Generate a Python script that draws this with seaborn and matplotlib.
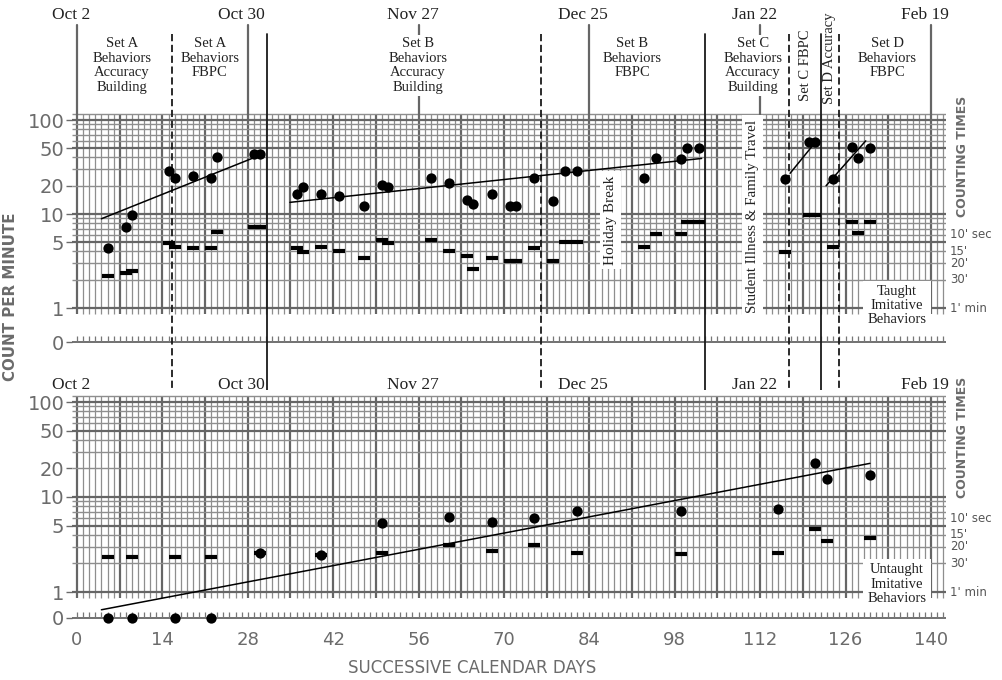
import numpy as np
import matplotlib
matplotlib.use("Agg")
import matplotlib.pyplot as plt
import matplotlib.transforms as mtransforms
import seaborn as sns

#   --  values (day, count per minute)
taught_days = [5, 8, 9, 15, 16, 19, 22, 23, 29, 30,
               36, 37, 40, 43, 47, 50, 51, 58, 61, 64,
               65, 68, 71, 72, 75, 78, 80, 82, 93, 95,
               99, 100, 102, 116, 120, 121, 124, 127, 128, 130]
taught_rate = [4.4, 7.3, 9.7, 29, 24, 25.5, 24, 40, 43, 43,
               16.3, 19.5, 16.2, 15.7, 12.2, 20.4, 19.2, 24.3, 21.2, 14.1,
               12.7, 16.3, 12.3, 12.3, 24, 13.9, 28.9, 28.9, 24.3, 39,
               38.7, 50.8, 50.8, 23.6, 58.3, 58.3, 23.6, 51.6, 39, 50.8]
taught_floor = [2.2, 2.35, 2.45, 4.9, 4.45, 4.4, 4.4, 6.5, 7.3, 7.3,
                4.4, 3.9, 4.45, 4.07, 3.43, 5.3, 4.9, 5.3, 4.07, 3.57,
                2.58, 3.4, 3.2, 3.2, 4.3, 3.14, 5.0, 5.0, 4.45, 6.1,
                6.2, 8.3, 8.3, 3.97, 9.7, 9.7, 4.45, 8.2, 6.3, 8.2]

untaught_days = [5, 9, 16, 22, 30, 40, 50, 61, 68, 75, 82, 99, 115, 121, 123, 130]
untaught_rate = [0, 0, 0, 0, 2.55, 2.47, 5.3, 6.1, 5.5, 6.0, 7.2, 7.2, 7.5, 22.6, 15.4, 17.2]
untaught_floor = [2.33, 2.33, 2.33, 2.33, 2.55, 2.47, 2.55, 3.1, 2.7, 3.1, 2.6, 2.51, 2.6, 4.6, 3.47, 3.7]

# celeration lines, start / end of each
taught_trend_days = [[4, 29.4], [34.9, 102.4], [116.9, 120.9], [122.8, 129.3]]
taught_trend_vals = [[8.9, 40.7], [13.3, 39], [27.1, 56.5], [20, 60]]
untaught_trend_days = [4, 130]
untaught_trend_vals = [0.65, 22.6]

phase_days = [15.6, 31.1, 76.1, 103.0, 116.7, 122.0, 124.9]
phase_styles = ["--", "-", "--", "-", "--", "-", "--"]

phase_text = ["Set A\nBehaviors\nAccuracy\nBuilding", "Set A\nBehaviors\nFBPC",
              "Set B\nBehaviors\nAccuracy\nBuilding", "Set B\nBehaviors\nFBPC",
              "Set C\nBehaviors\nAccuracy\nBuilding", "Set C FBPC", "Set D Accuracy",
              "Set D\nBehaviors\nFBPC"]
phase_text_days = [7.4, 21.8, 55.9, 91, 110.8, 119.5, 123.4, 132.8]

date_labels = ["Oct 2", "Oct 30", "Nov 27", "Dec 25", "Jan 22", "Feb 19"]
date_days = [0, 28, 56, 84, 112, 140]
day_ticks = list(range(0, 141, 14))
y_ticks = [1, 5, 10, 20, 50, 100]
count_times = ["10' sec", "15'", "20'", "30'", "1' min"]
count_rates = [6, 4, 3, 2, 1]

#   --  layout (pixels of a 1003x680 picture)
W, H = 1003, 680
X0, PXD = 77, 6.1
LEFT, RIGHT = 72, 946
XLIM = ((LEFT - X0) / PXD, (RIGHT - X0) / PXD)
GRID_TOP, GRID_BOT = 115, 0.86
GREY = "#6b6b6b"
SERIF = "Liberation Serif"

sns.set_style("white")
fig = plt.figure(figsize=(W / 100, H / 100), dpi=100)


def fy(py):
    return 1 - py / H


def add_panel(top_px, bot_px, one_px, dec_px, zero_px):
    ax = fig.add_axes([LEFT / W, fy(bot_px), (RIGHT - LEFT) / W, (bot_px - top_px) / H])
    ax.set_yscale("log")
    ax.set_xlim(*XLIM)
    ax.set_ylim(10 ** ((one_px - bot_px) / dec_px), 10 ** ((one_px - top_px) / dec_px))
    zero = 10 ** ((one_px - zero_px) / dec_px)

    days = np.arange(0, 143)
    weekly = days % 7 == 0
    ax.vlines(days[~weekly], GRID_BOT, GRID_TOP, color="#8e8e8e", lw=0.9, zorder=1)
    ax.vlines(days[weekly], GRID_BOT, GRID_TOP, color="#666666", lw=1.6, zorder=1)
    hv = list(range(1, 11)) + list(range(20, 101, 10))
    dark = [1, 5, 10, 50, 100]
    ax.hlines([v for v in hv if v not in dark] + [GRID_TOP], XLIM[0], XLIM[1],
              color="#8e8e8e", lw=1.0, zorder=1)
    ax.hlines(dark, XLIM[0], XLIM[1], color="#666666", lw=1.6, zorder=1)

    # zero row ruler
    ax.hlines(zero, XLIM[0], XLIM[1], color="#666666", lw=1.3, zorder=1)
    ax.vlines(days, zero, zero * 10 ** (6 / dec_px), color="#777777", lw=0.9, zorder=1)

    ax.set_yticks([zero] + y_ticks)
    ax.set_yticklabels(["0"] + [str(t) for t in y_ticks])
    ax.yaxis.set_minor_locator(matplotlib.ticker.NullLocator())
    ax.tick_params(axis="y", length=4, width=1, color=GREY, pad=1.5,
                   labelsize=14, labelcolor=GREY, left=True)
    for s in ax.spines.values():
        s.set_visible(False)

    # counting times on the right
    tr = mtransforms.blended_transform_factory(fig.transFigure, ax.transData)
    for lab, v in zip(count_times, count_rates):
        ax.text(950 / W, v, lab, transform=tr, ha="left", va="center",
                fontsize=8.5, color="#555555", clip_on=False)
    return ax, zero


ax_top, zero_top = add_panel(112, 348, 308, 94, 342)
ax_bot, zero_bot = add_panel(390, 625, 592, 95, 617.5)

ax_top.set_xticks([])
ax_bot.set_xticks(day_ticks)
ax_bot.set_xticklabels([str(d) for d in day_ticks])
ax_bot.tick_params(axis="x", length=0, pad=4, labelsize=13, labelcolor=GREY)

#   --  data
sns.scatterplot(x=taught_days, y=taught_rate, ax=ax_top, color="black", s=55,
                linewidth=0, zorder=6)
sns.scatterplot(x=taught_days, y=taught_floor, ax=ax_top, color="black", marker="_",
                s=80, linewidth=3, zorder=6)
for d, v in zip(taught_trend_days, taught_trend_vals):
    sns.lineplot(x=d, y=v, ax=ax_top, color="black", lw=1.1, zorder=5)

u_rate = np.where(np.array(untaught_rate) == 0, zero_bot, untaught_rate)
sns.scatterplot(x=untaught_days, y=u_rate, ax=ax_bot, color="black", s=55,
                linewidth=0, zorder=6, clip_on=False)
sns.scatterplot(x=untaught_days, y=untaught_floor, ax=ax_bot, color="black", marker="_",
                s=80, linewidth=3, zorder=6)
sns.lineplot(x=untaught_trend_days, y=untaught_trend_vals, ax=ax_bot, color="black",
             lw=1.1, zorder=5)

#   --  phase change lines across both panels
trans = mtransforms.blended_transform_factory(ax_top.transData, fig.transFigure)
for d, st in zip(phase_days, phase_styles):
    ax_top.plot([d, d], [fy(34), fy(618)], transform=trans, ls=st, color="#1a1a1a",
                lw=1.3, clip_on=False, zorder=4,
                dashes=(4, 2) if st == "--" else (None, None))

# four-week lines up to the date row
for d in date_days:
    ax_top.plot([d, d], [fy(25), fy(115)], transform=trans, color="#666666",
                lw=1.6, clip_on=False, zorder=1)

for lab, d in zip(date_labels, date_days):
    ax_top.text(d - 1, fy(15), lab, transform=trans, ha="center", va="center",
                family=SERIF, fontsize=12.5, color="#222222")
    ax_top.text(d - 1, fy(385), lab, transform=trans, ha="center", va="center",
                family=SERIF, fontsize=12.5, color="#222222")

box = dict(facecolor="white", edgecolor="none", pad=1.5)
for txt, d in zip(phase_text, phase_text_days):
    if "\n" in txt:
        ax_top.text(d, fy(37), txt, transform=trans, ha="center", va="top",
                    family=SERIF, fontsize=10.5, linespacing=1.15,
                    color="#222222", bbox=box, zorder=3)
    else:
        yc = 65 if "FBPC" in txt else 58
        ax_top.text(d, fy(yc), txt, transform=trans, ha="center", va="center",
                    rotation=90, family=SERIF, fontsize=10.5, color="#222222",
                    bbox=box, zorder=3)

box2 = dict(facecolor="white", edgecolor="none", pad=3)
ax_top.text(87.4, fy(220), "Holiday Break", transform=trans, rotation=90,
            ha="center", va="center", family=SERIF, fontsize=11, color="#222222",
            bbox=box2, zorder=3)
ax_top.text(110.7, fy(216), "Student Illness & Family Travel", transform=trans,
            rotation=90, ha="center", va="center", family=SERIF, fontsize=10.8,
            color="#222222", bbox=box2, zorder=3)
ax_top.text(134.4, fy(306), "Taught\nImitative\nBehaviors", transform=trans,
            ha="center", va="center", family=SERIF, fontsize=10.5, linespacing=1.1,
            color="#222222", bbox=box2, zorder=3)
ax_bot.text(134.4, fy(584), "Untaught\nImitative\nBehaviors", transform=trans,
            ha="center", va="center", family=SERIF, fontsize=10.5, linespacing=1.1,
            color="#222222", bbox=box2, zorder=3)

#   --  axis titles
fig.text(11 / W, fy(297), "COUNT PER MINUTE", rotation=90, ha="center", va="center",
         fontsize=10.8, fontweight="bold", color=GREY)
fig.text(472 / W, fy(668), "SUCCESSIVE CALENDAR DAYS", ha="center", va="center",
         fontsize=12, color=GREY)
for yc in (156, 437):
    fig.text(963 / W, fy(yc), "COUNTING TIMES", rotation=90, ha="center", va="center",
             fontsize=9, fontweight="bold", color=GREY)

fig.savefig("out.png", dpi=100)
